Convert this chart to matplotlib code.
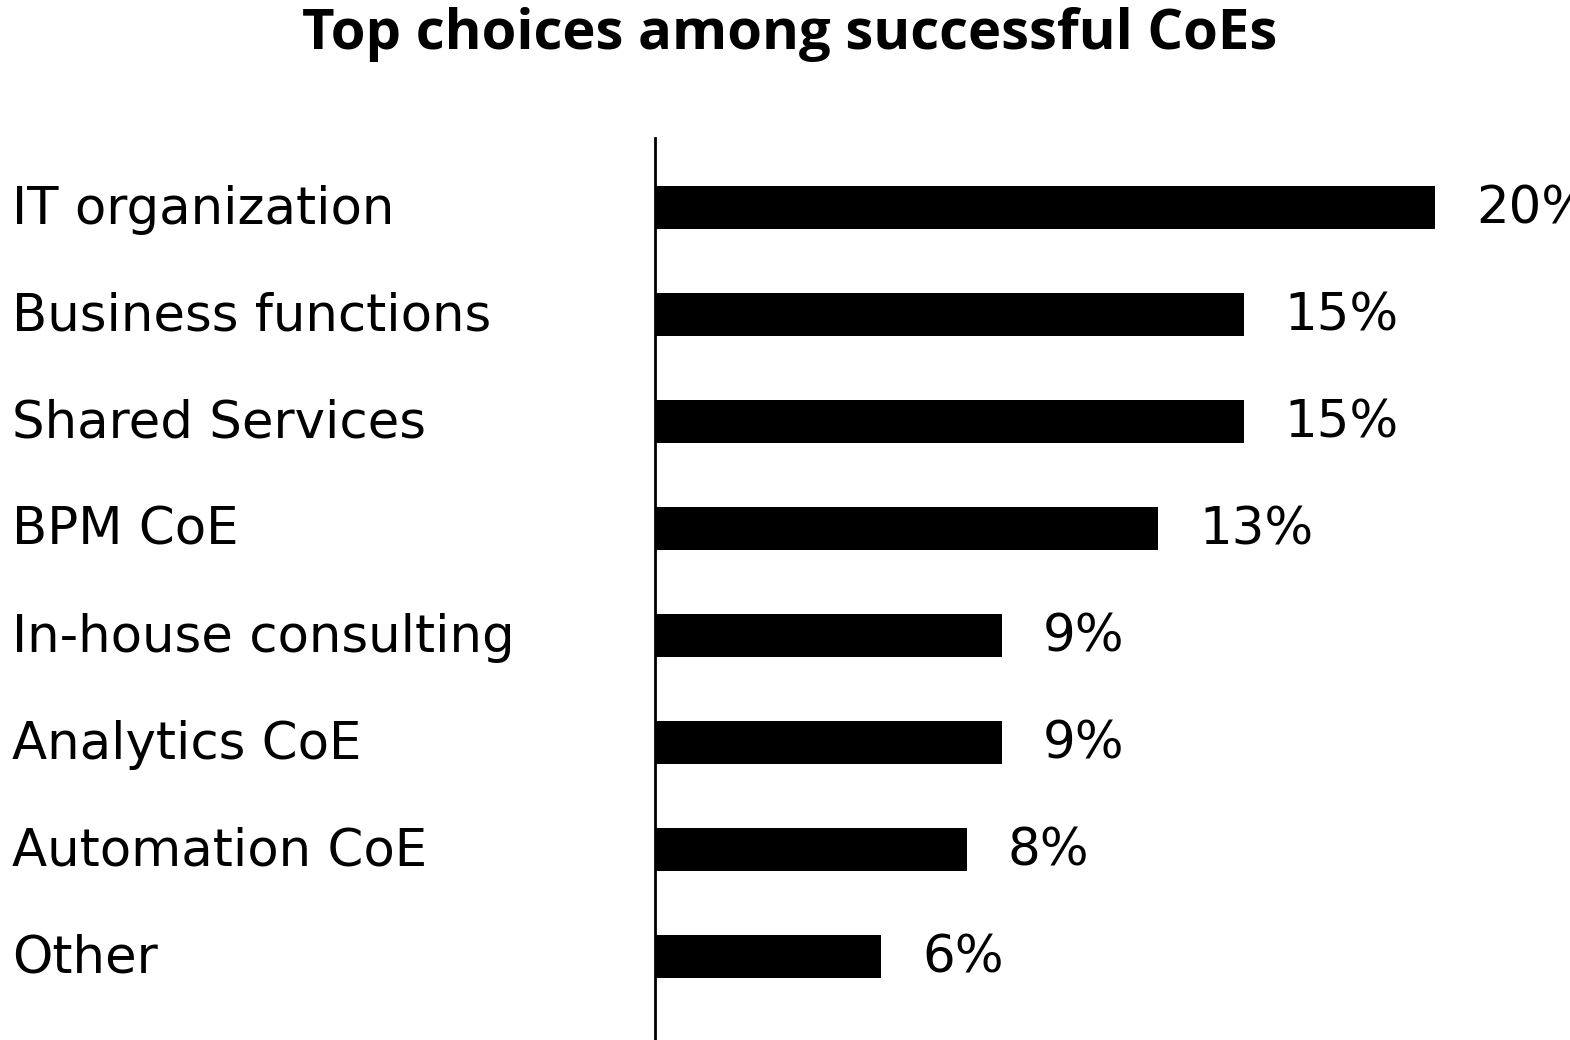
import numpy as np
import matplotlib.pyplot as plt

categories = ['IT organization', 'Business functions', 'Shared Services', 'BPM CoE',
              'In-house consulting', 'Analytics CoE', 'Automation CoE', 'Other',
              'Chief Digital Office']
values = [20, 15.1, 15.1, 12.9, 8.9, 8.9, 8.0, 5.8, 5]
value_labels = ['20%', '15%', '15%', '13%', '9%', '9%', '8%', '6%', '']

plt.rcParams['font.family'] = ['DejaVu Sans']

fig = plt.figure(figsize=(15.7, 10.4), dpi=100)
ax = fig.add_axes([655 / 1570, 0.0, 1 - 655 / 1570, (1040 - 138) / 1040])

y = np.arange(len(categories))
ax.barh(y, values, height=0.4, color='black')
ax.set_xlim(0, (1570 - 655) / 39.0)
ax.set_ylim(7.78, -0.65)

for s in ['top', 'right', 'bottom']:
    ax.spines[s].set_visible(False)
ax.spines['left'].set_linewidth(2)
ax.set_xticks([])
ax.set_yticks([])

# labels sit on a baseline ~16px below bar centre
for yi, cat in zip(y, categories):
    ax.annotate(cat, (12 / 1570, yi), xycoords=('figure fraction', 'data'),
                xytext=(0, -11.5), textcoords='offset points',
                ha='left', va='baseline', fontsize=37, annotation_clip=False)

for yi, v, lab in zip(y, values, value_labels):
    ax.annotate(lab, (v, yi), xytext=(29.5, -11.5), textcoords='offset points',
                ha='left', va='baseline', fontsize=37, annotation_clip=False)

fig.text(0.503, 1 - 49 / 1040, 'Top choices among successful CoEs', ha='center',
         va='baseline', fontsize=40.5, fontweight='bold', family=['Open Sans', 'DejaVu Sans'])

fig.savefig('out.png', dpi=100)
